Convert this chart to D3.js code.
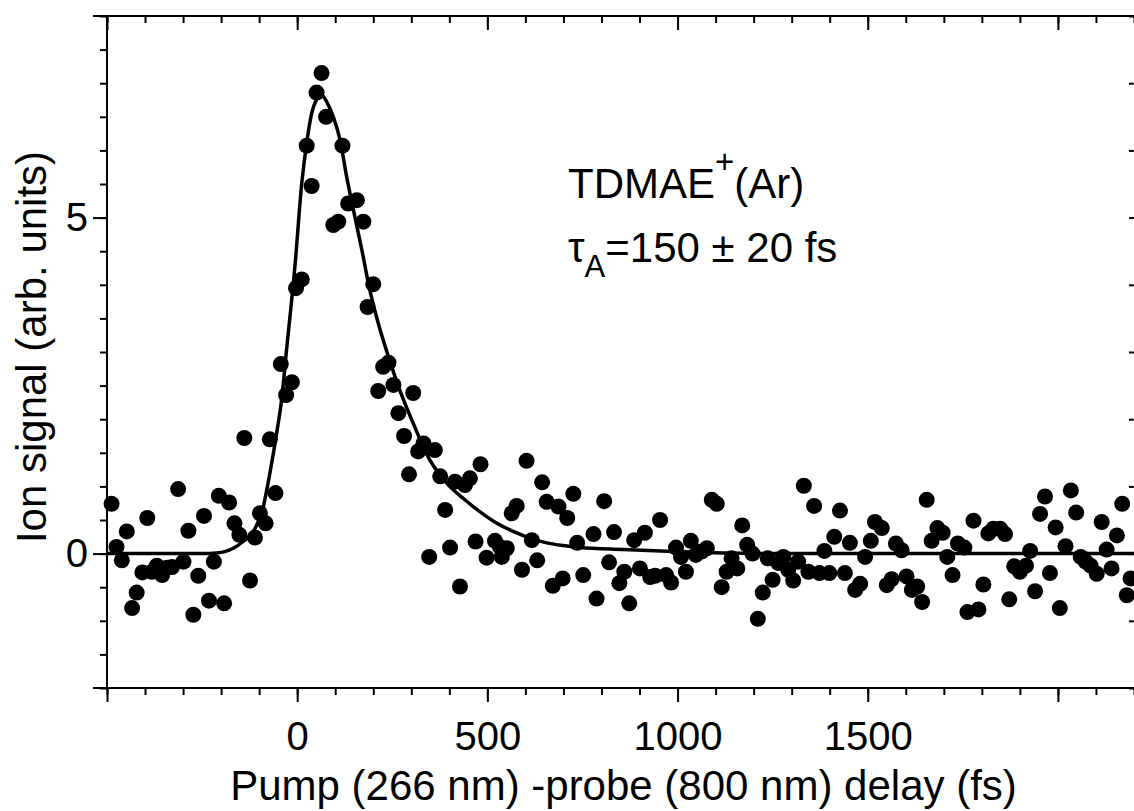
<!DOCTYPE html>
<html>
<head>
<meta charset="utf-8">
<script src="https://cdn.jsdelivr.net/npm/d3@7"></script>
<style>
    body { margin: 0; background: #fff; }
    svg { display: block; font-family: "Liberation Sans", Arial, sans-serif; }
</style>
</head>
<body>
<svg id="chart_svg" width="1134" height="811"></svg>
<script>
// Measured points: pump-probe delay (fs)
const delay = [
    -488, -475, -461, -448, -434, -422, -407, -394, -382, -369,
    -355, -342, -329, -313, -299, -286, -273, -260, -245, -232,
    -219, -206, -192, -179, -165, -152, -139, -124, -111, -98,
    -83, -72, -57, -43, -29, -14, -3, 12, 25, 38,
    51, 64, 76, 95, 108, 119, 134, 157, 174, 185,
    200, 213, 226, 240, 253, 266, 281, 294, 305, 318,
    332, 347, 362, 376, 389, 402, 415, 428, 441, 454,
    469, 482, 498, 520, 533, 538, 551, 564, 577, 591,
    603, 617, 631, 644, 656, 672, 687, 698, 710, 726,
    736, 752, 779, 787, 807, 820, 833, 847, 860, 873,
    886, 901, 914, 928, 941, 954, 970, 983, 996, 1009,
    1022, 1035, 1048, 1063, 1077, 1090, 1103, 1116, 1129, 1142,
    1157, 1170, 1183, 1197, 1211, 1224, 1237, 1250, 1265, 1278,
    1291, 1304, 1317, 1332, 1344, 1359, 1373, 1386, 1399, 1412,
    1427, 1440, 1453, 1467, 1480, 1493, 1508, 1519, 1537, 1550,
    1563, 1574, 1589, 1602, 1616, 1630, 1643, 1655, 1668, 1683,
    1697, 1709, 1723, 1737, 1754, 1762, 1778, 1791, 1804, 1817,
    1830, 1848, 1861, 1872, 1885, 1900, 1916, 1927, 1940, 1953,
    1966, 1979, 1994, 2005, 2020, 2034, 2048, 2060, 2073, 2086,
    2102, 2115, 2128, 2141, 2155, 2169, 2181, 2191
];

// Measured points: ion signal (arb. units)
const signal = [
    0.74, 0.10, -0.10, 0.33, -0.81, -0.58, -0.28, 0.53, -0.27, -0.18,
    -0.32, -0.21, -0.20, 0.96, -0.12, 0.34, -0.91, -0.33, 0.56, -0.70,
    -0.12, 0.86, -0.74, 0.76, 0.45, 0.28, 1.72, -0.40, 0.24, 0.60,
    0.45, 1.70, 0.90, 2.82, 2.36, 2.55, 3.95, 4.08, 6.07, 5.47,
    6.86, 7.15, 6.50, 4.89, 4.94, 6.07, 5.21, 5.26, 4.94, 3.67,
    4.01, 2.42, 2.78, 2.84, 2.51, 2.09, 1.75, 1.18, 2.39, 1.52,
    1.64, -0.05, 1.54, 1.15, 0.65, 0.09, 1.07, -0.49, 1.02, 1.12,
    0.18, 1.33, -0.06, 0.19, 0.10, -0.05, 0.08, 0.60, 0.71, -0.24,
    1.38, 0.20, -0.10, 1.06, 0.77, -0.48, 0.70, -0.37, 0.53, 0.89,
    0.16, -0.32, 0.29, -0.67, 0.78, -0.13, 0.32, -0.44, -0.27, -0.74,
    0.20, -0.22, 0.31, -0.35, -0.33, 0.50, -0.32, -0.43, 0.09, -0.05,
    -0.27, 0.19, -0.02, 0.03, 0.08, 0.80, 0.74, -0.50, -0.27, -0.07,
    -0.22, 0.42, 0.13, 0.00, -0.97, -0.58, -0.07, -0.39, -0.14, -0.05,
    -0.24, -0.40, -0.12, 1.01, -0.27, 0.71, -0.29, 0.04, -0.29, 0.25,
    0.64, -0.29, 0.16, -0.54, -0.45, -0.05, 0.19, 0.47, 0.38, -0.47,
    -0.38, 0.15, 0.05, -0.34, -0.54, -0.49, -0.72, 0.80, 0.19, 0.38,
    0.31, -0.05, -0.32, 0.15, 0.09, -0.87, 0.49, -0.83, -0.46, 0.30,
    0.37, 0.37, 0.29, -0.68, -0.19, -0.27, -0.18, 0.04, -0.56, 0.59,
    0.85, -0.29, 0.39, -0.81, 0.11, 0.94, 0.61, -0.05, -0.12, -0.18,
    -0.30, 0.47, 0.06, -0.22, 0.27, 0.74, -0.62, -0.37
];

// Fitted curve
const fitDelay = [
    -500, -250, -212, -190, -168, -142, -115, -89, -72, -54,
    -41, -28, -6, 12, 25, 38, 51, 62, 78, 95,
    113, 130, 148, 170, 191, 218, 240, 270, 305, 349,
    393, 437, 481, 525, 568, 612, 656, 700, 744, 857,
    989, 1120, 1296, 2200
];
const fitSignal = [
    0, 0, 0.01, 0.03, 0.08, 0.18, 0.33, 0.70, 1.19, 1.79,
    2.29, 3.03, 4.27, 5.51, 6.11, 6.55, 6.76, 6.83, 6.72, 6.50,
    6.15, 5.61, 5.11, 4.52, 3.92, 3.33, 2.93, 2.43, 1.94, 1.39,
    1.05, 0.82, 0.62, 0.45, 0.33, 0.23, 0.16, 0.12, 0.09, 0.06,
    0.03, 0.01, 0, 0
];

// Ticks
const xMajorTicks = [-500, 0, 500, 1000, 1500, 2000];
const xTickLabels = ["", "0", "500", "1000", "1500", ""];
const yMajorTicks = [0, 5];
const yTickLabels = ["0", "5"];

const margin = {top: 16, right: 0, bottom: 123, left: 107};

document.addEventListener("DOMContentLoaded", function() {
    const chart_svg = d3.select("#chart_svg");
    const width = +chart_svg.attr("width");
    const height = +chart_svg.attr("height");
    const innerWidth = width - margin.left - margin.right;
    const innerHeight = height - margin.top - margin.bottom;

    // Scales
    const xScale = d3.scaleLinear()
        .domain([-500, 2200])
        .range([margin.left, margin.left + innerWidth]);
    const yScale = d3.scaleLinear()
        .domain([-2, 8])
        .range([margin.top + innerHeight, margin.top]);

    const xMinor = d3.range(-500, 2201, 100);
    const yMinor = d3.range(-2, 8.01, 0.5);
    const yRight = d3.range(-2, 8.01, 1);

    // Bottom axis, minor then major
    chart_svg.append("g")
        .attr("class", "xMinorBottom")
        .attr("transform", `translate(0, ${yScale(-2)})`)
        .call(d3.axisBottom(xScale).tickValues(xMinor).tickSize(7).tickFormat(""));
    chart_svg.append("g")
        .attr("class", "xMajorBottom")
        .attr("transform", `translate(0, ${yScale(-2)})`)
        .call(d3.axisBottom(xScale).tickValues(xMajorTicks).tickSize(14).tickPadding(20)
            .tickFormat((d, i) => xTickLabels[i]));

    // Top axis, ticks pointing in
    chart_svg.append("g")
        .attr("class", "xMinorTop")
        .attr("transform", `translate(0, ${yScale(8)})`)
        .call(d3.axisTop(xScale).tickValues(xMinor).tickSize(-7).tickFormat(""));
    chart_svg.append("g")
        .attr("class", "xMajorTop")
        .attr("transform", `translate(0, ${yScale(8)})`)
        .call(d3.axisTop(xScale).tickValues(xMajorTicks).tickSize(-14).tickFormat(""));

    // Left axis
    chart_svg.append("g")
        .attr("class", "yMinorLeft")
        .attr("transform", `translate(${xScale(-500)}, 0)`)
        .call(d3.axisLeft(yScale).tickValues(yMinor).tickSize(7).tickFormat(""));
    chart_svg.append("g")
        .attr("class", "yMajorLeft")
        .attr("transform", `translate(${xScale(-500)}, 0)`)
        .call(d3.axisLeft(yScale).tickValues(yMajorTicks).tickSize(14).tickPadding(5)
            .tickFormat((d, i) => yTickLabels[i]));

    // Right axis, only tick tips show at the edge
    chart_svg.append("g")
        .attr("class", "yRight")
        .attr("transform", `translate(${xScale(2200) + 3}, 0)`)
        .call(d3.axisRight(yScale).tickValues(yRight).tickSize(-8).tickFormat(""));

    chart_svg.selectAll(".domain").remove();
    chart_svg.selectAll(".tick line").attr("stroke", "#000").attr("stroke-width", 2);
    chart_svg.selectAll(".tick text")
        .attr("fill", "#000")
        .style("font-size", "40px")
        .style("font-family", "'Liberation Sans', Arial, sans-serif");

    // Frame lines
    chart_svg.append("line")
        .attr("x1", xScale(-500) - 14).attr("x2", width)
        .attr("y1", yScale(8)).attr("y2", yScale(8))
        .style("stroke", "#000").style("stroke-width", 2);
    chart_svg.append("line")
        .attr("x1", xScale(-500) - 14).attr("x2", width)
        .attr("y1", yScale(-2)).attr("y2", yScale(-2))
        .style("stroke", "#000").style("stroke-width", 2);
    chart_svg.append("line")
        .attr("x1", xScale(-500)).attr("x2", xScale(-500))
        .attr("y1", yScale(8) - 1).attr("y2", yScale(-2))
        .style("stroke", "#000").style("stroke-width", 2);

    // Fit curve
    chart_svg.append("path")
        .datum(d3.zip(fitDelay, fitSignal))
        .attr("fill", "none")
        .attr("stroke", "#000")
        .attr("stroke-width", 3.5)
        .attr("d", d3.line()
            .curve(d3.curveMonotoneX)
            .x(d => xScale(d[0]))
            .y(d => yScale(d[1])));

    // Data points
    chart_svg.append("g")
        .selectAll("circle")
        .data(d3.zip(delay, signal))
        .enter()
        .append("circle")
            .attr("cx", d => xScale(d[0]))
            .attr("cy", d => yScale(d[1]))
            .attr("r", 8)
            .style("fill", "#000");

    // Axis titles
    chart_svg.append("text")
        .attr("x", xScale(-500) + innerWidth / 2 + 3)
        .attr("y", 800)
        .attr("text-anchor", "middle")
        .style("font-size", "42px")
        .text("Pump (266 nm) -probe (800 nm) delay (fs)");

    chart_svg.append("text")
        .attr("transform", "translate(46, 347) rotate(-90)")
        .attr("text-anchor", "middle")
        .style("font-size", "42px")
        .text("Ion signal (arb. units)");

    // Annotation
    const note1 = chart_svg.append("text")
        .attr("x", 568).attr("y", 198)
        .style("font-size", "42px");
    note1.append("tspan").text("TDMAE");
    note1.append("tspan").attr("dy", -25).style("font-size", "33px").text("+");
    note1.append("tspan").attr("dy", 25).text("(Ar)");

    const note2 = chart_svg.append("text")
        .attr("x", 568).attr("y", 262)
        .style("font-size", "42px");
    note2.append("tspan").text("\u03C4");
    note2.append("tspan").attr("dy", 15).style("font-size", "31px").text("A");
    note2.append("tspan").attr("dy", -15).text("=150 \u00B1 20 fs");
});
</script>
</body>
</html>
